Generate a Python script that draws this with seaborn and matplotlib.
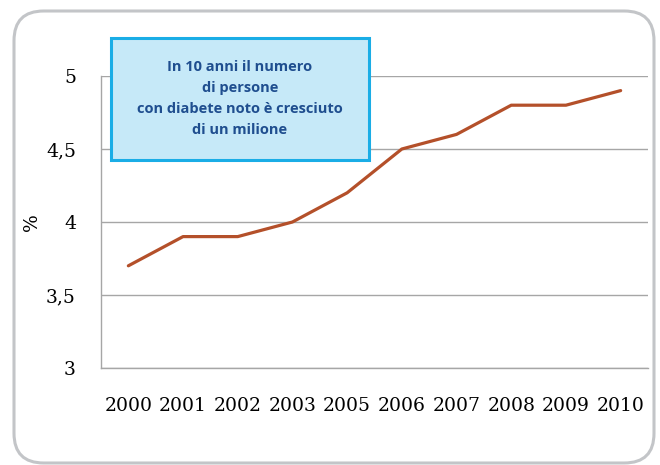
import matplotlib
matplotlib.use("Agg")
import matplotlib.pyplot as plt
from matplotlib.patches import FancyBboxPatch, Rectangle
import seaborn as sns
import pandas as pd

years = ["2000", "2001", "2002", "2003", "2005", "2006", "2007", "2008", "2009", "2010"]
percent = [3.7, 3.9, 3.9, 4.0, 4.2, 4.5, 4.6, 4.8, 4.8, 4.9]
y_ticks = [3, 3.5, 4, 4.5, 5]
y_tick_labels = ["3", "3,5", "4", "4,5", "5"]
note_lines = ["In 10 anni il numero", "di persone",
              "con diabete noto è cresciuto", "di un milione"]

sns.set_style("white")
plt.rcParams["font.family"] = ["DejaVu Serif"]

df = pd.DataFrame({"anno": years, "pct": percent})

W, H = 660, 465
fig = plt.figure(figsize=(W / 100, H / 100), dpi=100)

# outer rounded frame
frame = FancyBboxPatch((14 / W, 1 - 463 / H), (654 - 14) / W, (463 - 11) / H,
                       boxstyle="round,pad=0,rounding_size=0.045",
                       transform=fig.transFigure, facecolor="none",
                       edgecolor="#C3C5C8", linewidth=2.2, zorder=-1,
                       mutation_aspect=W / H)
fig.patches.append(frame)

ax = fig.add_axes([101 / W, 1 - 368 / H, (648 - 101) / W, (368 - 76) / H])
ax.set_facecolor("none")

sns.lineplot(data=df, x="anno", y="pct", ax=ax, color="#B4502A",
             linewidth=2.3, sort=False)

ax.set_xlim(-0.5, len(years) - 0.5)
ax.set_ylim(3, 5)
ax.set_yticks(y_ticks)
ax.set_yticklabels(y_tick_labels)
ax.yaxis.grid(True, color="#A6A6A6", linewidth=1.0)
ax.set_axisbelow(True)
for side in ["top", "right"]:
    ax.spines[side].set_visible(False)
for side in ["left", "bottom"]:
    ax.spines[side].set_color("#A6A6A6")
    ax.spines[side].set_linewidth(1.0)
ax.tick_params(axis="y", length=0, pad=18, labelsize=13.5, labelcolor="black")
ax.tick_params(axis="x", length=0, pad=21, labelsize=13.5, labelcolor="black")
ax.set_xlabel("")
ax.set_ylabel("")

fig.text(32 / W, 1 - 222 / H, "%", rotation=90, ha="center", va="center",
         fontsize=13.5, family="DejaVu Serif", color="black")

# highlighted note
note = Rectangle((111 / W, 1 - 160 / H), (369 - 111) / W, (160 - 38) / H,
                 transform=fig.transFigure, facecolor="#C6E9F8",
                 edgecolor="#1AADE6", linewidth=2.2, zorder=5)
fig.patches.append(note)
line_y = [67, 88, 109, 130]
for txt, yy in zip(note_lines, line_y):
    fig.text(240 / W, 1 - yy / H, txt, ha="center", va="center",
             fontsize=10.5, fontweight="bold", color="#1F4E8F",
             family=["Open Sans", "DejaVu Sans"], zorder=6)

fig.savefig("out.png", dpi=100)
